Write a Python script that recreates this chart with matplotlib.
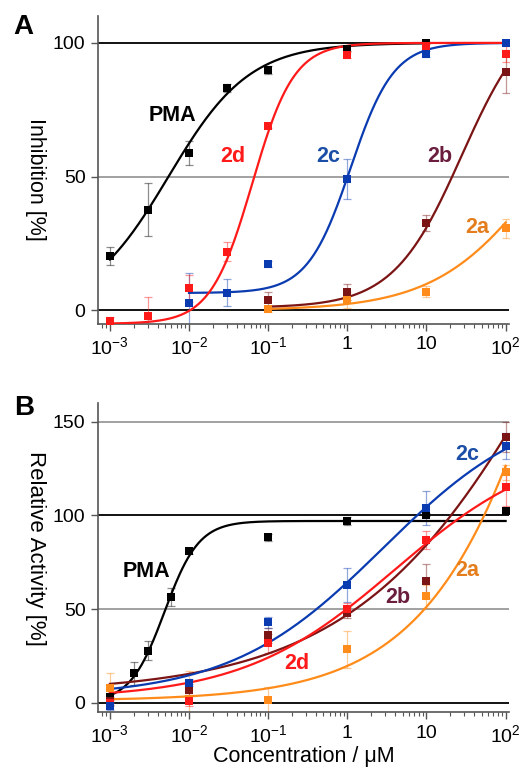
import numpy as np
import matplotlib
matplotlib.use('Agg')
from matplotlib import pyplot as plt
from matplotlib.ticker import LogLocator, NullFormatter

plt.rcParams['font.family'] = ['Liberation Sans', 'DejaVu Sans']
plt.rcParams['mathtext.fontset'] = 'custom'
plt.rcParams['mathtext.rm'] = 'Liberation Sans'
plt.rcParams['mathtext.it'] = 'Liberation Sans:italic'

#Panel A: inhibition data (concentration in uM, value, error)
xA_pma = [1e-3, 3e-3, 1e-2, 3e-2, 1e-1, 1, 10]
yA_pma = [20.3, 37.7, 58.8, 83.3, 89.9, 97.8, 100]
eA_pma = [3.5, 10, 4.5, 1.5, 1.5, 1, 0.5]

xA_2d = [1e-3, 3e-3, 1e-2, 3e-2, 1e-1, 1, 10, 100]
yA_2d = [-4, -2, 8.3, 22, 69, 95.5, 99, 96]
eA_2d = [1.5, 7, 5, 3.5, 1, 1, 1, 3]

xA_2c = [1e-2, 3e-2, 1e-1, 1, 10, 100]
yA_2c = [2.6, 6.6, 17.4, 49, 95.8, 100]
eA_2c = [11.5, 5, 1, 7.5, 1, 0.5]

xA_2b = [1e-1, 1, 10, 100]
yA_2b = [3.7, 7, 32.5, 89.3]
eA_2b = [3, 3, 3, 8]

xA_2a = [1e-1, 1, 10, 100]
yA_2a = [0.5, 3.8, 7, 30.7]
eA_2a = [1, 3, 2, 3.5]

#Panel B: relative activity data
xB_pma = [1e-3, 2e-3, 3e-3, 6e-3, 1e-2, 1e-1, 1, 10, 100]
yB_pma = [3.2, 15.7, 27.8, 56.4, 81.1, 88.2, 97.1, 100.4, 102.5]
eB_pma = [2, 6, 5, 5, 1.5, 2, 2, 1, 1]

xB = [1e-3, 1e-2, 1e-1, 1, 10, 100]
yB_2c = [-2, 10.7, 43, 63, 104, 137]
eB_2c = [2, 2, 3, 9, 9, 7]
yB_2d = [0, 1, 31.8, 50, 86.8, 115]
eB_2d = [2, 3, 5, 3, 5, 10]
yB_2b = [1, 7, 36, 48, 65, 142]
eB_2b = [2, 3, 4, 3, 9, 8]
yB_2a = [8, 2, 1.4, 28.5, 56.7, 123]
eB_2a = [8, 15, 7, 10, 6, 4]

#Fitted dose-response curves: bottom, top, EC50, hill slope, x range
fitA = {'PMA': (0, 100, 0.0055, 0.85, 1e-3, 10),
        '2d': (-5, 100, 0.063, 1.65, 1e-3, 100),
        '2c': (6.5, 100, 1.1, 1.6, 1e-2, 100),
        '2b': (1, 115, 28, 1.0, 0.1, 100),
        '2a': (0, 100, 300, 0.65, 0.1, 100)}
fitB = {'PMA': (0, 97, 0.0049, 2.0, 1e-3, 100),
        '2c': (3, 162, 2.82, 0.45, 1e-3, 100),
        '2d': (2, 140, 3.98, 0.45, 1e-3, 100),
        '2b': (5, 430, 1000, 0.32, 1e-3, 100),
        '2a': (1, 720, 3162, 0.45, 1e-3, 100)}

colors = {'PMA': '#000000', '2d': '#ff1a1a', '2c': '#0a3bb0', '2b': '#7b1414', '2a': '#ff8c1a'}
label_colors = {'PMA': '#000000', '2d': '#ff1a1a', '2c': '#1b4ea6', '2b': '#6a1d3d', '2a': '#e47d1c'}

def hill(x, bottom, top, ec50, h):
    return bottom + (top - bottom) / (1 + (ec50 / x) ** h)

fig = plt.figure(figsize=(5.28, 7.69), dpi=100)
axA = fig.add_axes([0.1856, 0.579, 0.778, 0.40])
axB = fig.add_axes([0.1856, 0.074, 0.778, 0.402])

def style(ax, yticks, ylim):
    ax.set_xscale('log')
    ax.set_xlim(10 ** -3.15, 10 ** 2.04)
    ax.set_ylim(*ylim)
    for s in ['top', 'right']:
        ax.spines[s].set_visible(False)
    for s in ['left', 'bottom']:
        ax.spines[s].set_color('#555555')
        ax.spines[s].set_linewidth(1.2)
    ax.set_xticks([1e-3, 1e-2, 1e-1, 1, 10, 100])
    ax.set_xticklabels([r'$10^{-3}$', r'$10^{-2}$', r'$10^{-1}$', '1', '10', r'$10^{2}$'])
    ax.xaxis.set_minor_locator(LogLocator(base=10, subs=np.arange(2, 10), numticks=20))
    ax.xaxis.set_minor_formatter(NullFormatter())
    ax.set_yticks(yticks)
    ax.tick_params(axis='both', which='major', labelsize=14, length=5, width=1, color='#555555', pad=4)
    ax.tick_params(axis='x', which='minor', length=3, width=0.8, color='#555555')
    for v in yticks:
        if v in (0, 100):
            ax.axhline(v, color='#111111', lw=1.4, zorder=1)
        else:
            ax.axhline(v, color='#888888', lw=1.1, zorder=1)

def draw(ax, name, x, y, e, fit):
    b, t, ec, h, x0, x1 = fit
    xs = np.logspace(np.log10(x0), np.log10(x1), 300)
    ax.plot(xs, hill(xs, b, t, ec, h), color=colors[name], lw=1.6, zorder=3)
    ax.errorbar(x, y, yerr=e, fmt='none', ecolor=colors[name], alpha=0.45,
                elinewidth=0.9, capsize=3, capthick=0.9, zorder=2)
    ax.plot(x, y, 's', color=colors[name], ms=5.5, mew=0, zorder=4)

style(axA, [0, 50, 100], (-5, 110))
draw(axA, 'PMA', xA_pma, yA_pma, eA_pma, fitA['PMA'])
draw(axA, '2a', xA_2a, yA_2a, eA_2a, fitA['2a'])
draw(axA, '2b', xA_2b, yA_2b, eA_2b, fitA['2b'])
draw(axA, '2c', xA_2c, yA_2c, eA_2c, fitA['2c'])
draw(axA, '2d', xA_2d, yA_2d, eA_2d, fitA['2d'])
axA.set_ylabel('Inhibition [%]', fontsize=15.5, rotation=-90, va='center', ha='center')
axA.yaxis.set_label_coords(-0.152, 0.47)
labelsA = {'PMA': (0.00624, 73), '2d': (0.0357, 57.5), '2c': (0.566, 57.5),
           '2b': (14.7, 57.5), '2a': (44.3, 31)}
for k, (lx, ly) in labelsA.items():
    axA.text(lx, ly, k, color=label_colors[k], fontsize=15.5, fontweight='bold',
             ha='center', va='center', zorder=5)

style(axB, [0, 50, 100, 150], (-5, 160))
draw(axB, 'PMA', xB_pma, yB_pma, eB_pma, fitB['PMA'])
draw(axB, '2a', xB, yB_2a, eB_2a, fitB['2a'])
draw(axB, '2b', xB, yB_2b, eB_2b, fitB['2b'])
draw(axB, '2d', xB, yB_2d, eB_2d, fitB['2d'])
draw(axB, '2c', xB, yB_2c, eB_2c, fitB['2c'])
axB.set_ylabel('Relative Activity [%]', fontsize=16, rotation=-90, va='center', ha='center')
axB.yaxis.set_label_coords(-0.152, 0.53)
axB.set_xlabel('Concentration / \u03bcM', fontsize=15.5, labelpad=0)
labelsB = {'PMA': (0.00293, 70), '2c': (33, 132.5), '2b': (4.3, 56),
           '2a': (33, 70.6), '2d': (0.23, 21.2)}
for k, (lx, ly) in labelsB.items():
    axB.text(lx, ly, k, color=label_colors[k], fontsize=15.5, fontweight='bold',
             ha='center', va='center', zorder=5)

fig.text(0.045, 0.965, 'A', fontsize=20, fontweight='bold', ha='center', va='center')
fig.text(0.045, 0.469, 'B', fontsize=20, fontweight='bold', ha='center', va='center')

fig.savefig('out.png', dpi=100)
